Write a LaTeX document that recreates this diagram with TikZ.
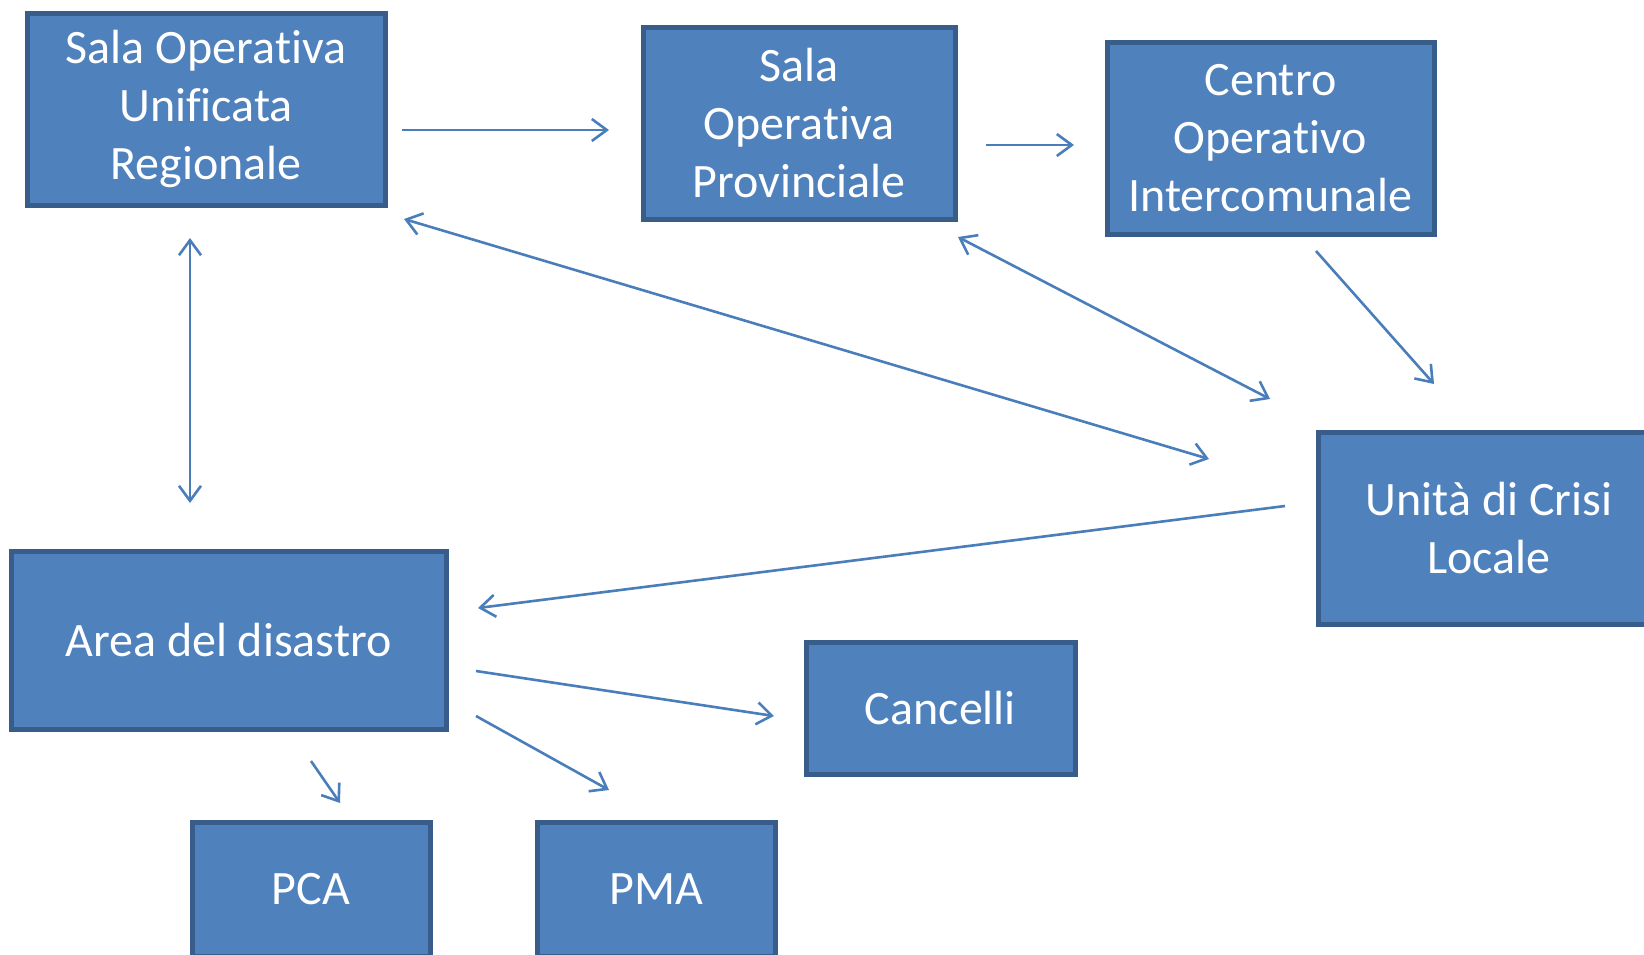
\documentclass[tikz,border=0pt]{standalone}
\usepackage{fontspec}
\setmainfont{Carlito}[Ligatures=NoCommon, RawFeature={-calt;-dlig;-clig}]
\usetikzlibrary{arrows.meta}
\definecolor{boxfill}{HTML}{4F81BD}
\definecolor{boxline}{HTML}{385D8A}
\definecolor{arrcol}{HTML}{4A7EBB}
\tikzset{
  box/.style={rectangle, fill=boxfill, draw=boxline, line width=5pt, inner sep=0pt,
    text=white, align=center, font=\fontsize{48}{58}\selectfont},
  conn/.style={draw=arrcol, line width=2.6pt, -{Straight Barb[length=15pt,width=22pt]}},
  biconn/.style={draw=arrcol, line width=2.6pt, {Straight Barb[length=15pt,width=22pt]}-{Straight Barb[length=15pt,width=22pt]}}
}
\begin{document}
\begin{tikzpicture}[x=1pt,y=-1pt]
\useasboundingbox (0,0) rectangle (1644,954);
\clip (0,0) rectangle (1644,954);
\node[box, minimum width=358pt, minimum height=192pt] (sour) at (206,109) {Sala Opera\kern0ptti\kern0ptva\\Unificata\\Regionale};
\node[box, minimum width=312pt, minimum height=192pt] (sop) at (799,123) {Sala\\Opera\kern0ptti\kern0ptva\\Provinciale};
\node[box, minimum width=327pt, minimum height=192pt] (coi) at (1270.5,138) {Centro\\Opera\kern0ptt\kern0ptivo\\Intercomunale};
\node[box, minimum width=342pt, minimum height=192pt] (ucl) at (1489,528) {Unità di Crisi\\Locale};
\node[box, minimum width=435pt, minimum height=178pt] (area) at (228.5,640) {Area del disastro};
\node[box, minimum width=269pt, minimum height=132pt] (canc) at (940.5,708) {Cancelli};
\node[box, minimum width=238pt, minimum height=134pt] (pca) at (311,889) {PCA};
\node[box, minimum width=238pt, minimum height=134pt] (pma) at (656,889) {PMA};

\coordinate (a1s) at (402,130); \coordinate (a1e) at (609,130);
\coordinate (a2s) at (986,145); \coordinate (a2e) at (1074,145);
\coordinate (a3s) at (1316,251); \coordinate (a3e) at (1434,384);
\coordinate (a4s) at (404,219); \coordinate (a4e) at (1209,459);
\coordinate (a5s) at (958,237); \coordinate (a5e) at (1270,399);
\coordinate (a6s) at (190,238); \coordinate (a6e) at (190,503);
\coordinate (a7s) at (1285,506); \coordinate (a7e) at (478,608);
\coordinate (a8s) at (476,671); \coordinate (a8e) at (774,716);
\coordinate (a9s) at (476,716); \coordinate (a9e) at (609,790);
\coordinate (a10s) at (311,761); \coordinate (a10e) at (340,803);

\draw[conn] (a1s) -- (a1e);
\draw[conn] (a2s) -- (a2e);
\draw[conn] (a3s) -- (a3e);
\draw[biconn] (a4s) -- (a4e);
\draw[biconn] (a5s) -- (a5e);
\draw[biconn] (a6s) -- (a6e);
\draw[conn] (a7s) -- (a7e);
\draw[conn] (a8s) -- (a8e);
\draw[conn] (a9s) -- (a9e);
\draw[conn] (a10s) -- (a10e);
\end{tikzpicture}
\end{document}
